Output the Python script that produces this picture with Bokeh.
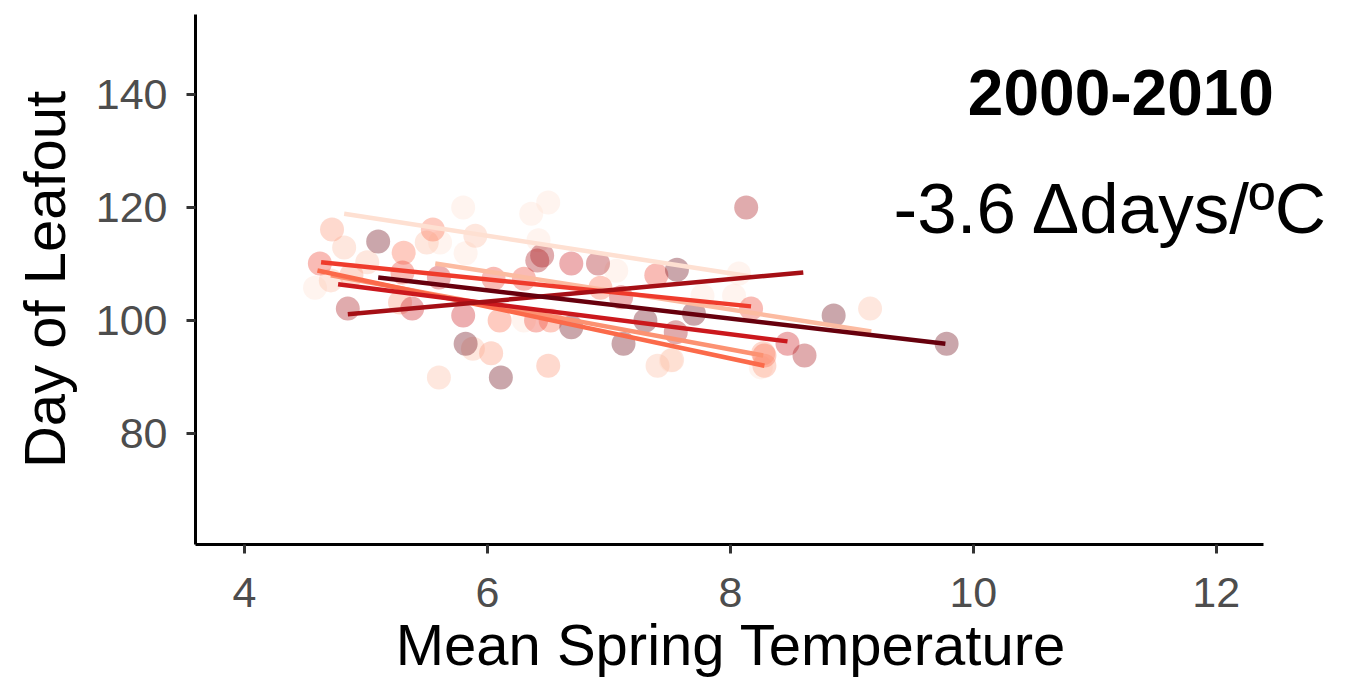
from bokeh.plotting import figure
from bokeh.models import Range1d, ColumnDataSource, Label, FixedTicker
from bokeh.embed import file_html
from bokeh.resources import INLINE

# ---- data ----
group_colors = ["#fee0d2", "#fcbba1", "#fc9272", "#fb6a4a", "#ef3b2c", "#cb181d", "#a50f15", "#67000d"]

pts_x_A = [5.80, 6.36, 6.50, 5.82, 7.06, 8.07, 5.61, 6.30, 4.58, 7.51, 7.77, 8.03, 8.25, 6.42]
pts_y_A = [120.0, 118.9, 120.9, 111.9, 108.8, 108.3, 113.8, 100.0, 105.8, 92.9, 104.4, 104.4, 91.7, 114.2]
pts_x_B = [4.82, 5.50, 5.90, 5.88, 4.71, 7.40, 9.15, 5.60, 5.01, 7.52]
pts_y_B = [112.9, 113.8, 115.0, 95.0, 107.1, 92.0, 102.1, 89.9, 110.3, 93.0]
pts_x_H = [4.72, 6.03, 6.50, 8.27, 5.28, 4.88, 8.28]
pts_y_H = [116.1, 94.2, 92.0, 94.2, 103.2, 108.0, 92.0]
pts_x_G = [5.31, 5.55, 6.93, 6.10, 6.52, 8.28]
pts_y_G = [112.0, 116.1, 105.8, 100.0, 100.0, 93.8]
pts_x_C = [4.62, 6.05, 6.30, 7.39, 8.17, 6.40, 5.30]
pts_y_C = [110.1, 107.4, 107.4, 108.0, 102.1, 100.0, 108.5]
pts_x_E = [5.38, 5.80, 8.47, 7.10, 6.69, 5.60]
pts_y_E = [102.1, 100.9, 95.9, 104.1, 110.1, 107.6]
pts_x_F = [4.85, 6.41, 6.45, 8.13, 7.55, 8.61, 6.91]
pts_y_F = [102.1, 110.6, 111.5, 120.0, 97.9, 93.8, 110.1]
pts_x_D = [5.10, 5.82, 6.11, 6.69, 7.30, 7.56, 7.70, 7.12, 8.85, 9.78]
pts_y_D = [114.0, 95.9, 89.9, 98.8, 100.0, 109.0, 101.2, 95.9, 100.9, 95.9]

# regression line end points per group (same order as group_colors)
line_x0 = [4.82, 5.57, 4.71, 4.60, 4.63, 4.77, 4.85, 5.10]
line_y0 = [118.9, 110.1, 108.0, 108.85, 110.3, 106.4, 101.1, 107.6]
line_x1 = [8.17, 9.16, 8.27, 8.28, 8.17, 8.47, 8.60, 9.77]
line_y1 = [107.8, 98.05, 93.8, 92.0, 102.5, 96.3, 108.5, 95.9]

x_ticks = [4, 6, 8, 10, 12]
y_ticks = [80, 100, 120, 140]
title_text = "2000-2010"
slope_text = "-3.6 \u0394days/\u00baC"
x_label = "Mean Spring Temperature"
y_label = "Day of Leafout"

X_MIN, X_AXIS_MAX, X_VIEW_MAX = 3.596, 12.387, 13.13
Y_MIN, Y_MAX = 60.35, 154.16

# ---- figure ----
FONT = "Liberation Sans"
p = figure(width=1359, height=679,
           x_range=Range1d(X_MIN, X_VIEW_MAX), y_range=Range1d(Y_MIN, Y_MAX),
           output_backend="svg", toolbar_location=None,
           min_border_left=195, min_border_right=6, min_border_top=14, min_border_bottom=135)
p.outline_line_color = None
p.background_fill_color = "white"
p.border_fill_color = "white"
p.xgrid.visible = False
p.ygrid.visible = False

pts = [(pts_x_A, pts_y_A), (pts_x_B, pts_y_B), (pts_x_H, pts_y_H), (pts_x_G, pts_y_G),
       (pts_x_C, pts_y_C), (pts_x_E, pts_y_E), (pts_x_F, pts_y_F), (pts_x_D, pts_y_D)]
for col, (xs, ys) in zip(group_colors, pts):
    src = ColumnDataSource(dict(x=xs, y=ys))
    p.scatter("x", "y", source=src, size=24, fill_color=col, fill_alpha=0.35, line_color=None)

seg = ColumnDataSource(dict(x0=line_x0, y0=line_y0, x1=line_x1, y1=line_y1, c=group_colors))
p.segment("x0", "y0", "x1", "y1", source=seg, line_color="c", line_width=4.5)

for ax in (p.xaxis[0], p.yaxis[0]):
    ax.axis_line_color = "black"
    ax.axis_line_width = 3
    ax.major_tick_line_color = "#333333"
    ax.major_tick_line_width = 3
    ax.major_tick_out = 9
    ax.major_tick_in = 0
    ax.minor_tick_line_color = None
    ax.major_label_text_font = FONT
    ax.major_label_text_font_size = "43px"
    ax.major_label_text_color = "#4d4d4d"
    ax.axis_label_text_font = FONT
    ax.axis_label_text_font_size = "58px"
    ax.axis_label_text_font_style = "normal"
    ax.axis_label_text_color = "black"

p.xaxis.bounds = (X_MIN, X_AXIS_MAX)
p.xaxis.ticker = FixedTicker(ticks=x_ticks)
p.yaxis.ticker = FixedTicker(ticks=y_ticks)
# trailing en-spaces shift the centred title left, under the drawn axis
p.xaxis.axis_label = x_label + "\u2002\u2002\u2002"
p.yaxis.axis_label = y_label
p.xaxis.major_label_standoff = 24
p.yaxis.major_label_standoff = 19
p.xaxis.axis_label_standoff = 2
p.xaxis.axis_label_text_line_height = 0.7
p.yaxis.axis_label_standoff = 16

p.add_layout(Label(x=11.215, y=140.4, text=title_text, text_align="center", text_baseline="alphabetic",
                   text_font=FONT, text_font_size="64px", text_font_style="bold", text_color="black"))
p.add_layout(Label(x=11.14, y=119.9, text=slope_text, text_align="center", text_baseline="alphabetic",
                   text_font=FONT, text_font_size="71px", text_color="black"))

open("out.html", "w").write(file_html(p, INLINE))
